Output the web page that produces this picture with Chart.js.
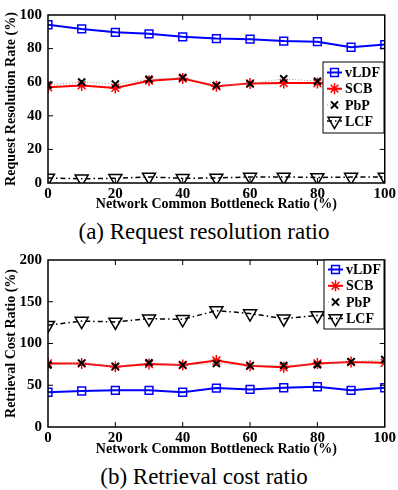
<!DOCTYPE html>
<html lang="en">
<head>
<meta charset="UTF-8" />
<title>Request resolution ratio / Retrieval cost ratio</title>
<style>
  body {
    margin: 0;
    background: #fff;
    width: 398px;
    height: 490px;
    position: relative;
    overflow: hidden;
    font-family: 'Liberation Serif', 'Times New Roman', serif;
  }
  .wrap {
    position: absolute;
    left: 0;
    width: 398px;
    height: 215px;
  }
  .caption {
    position: absolute;
    left: 0;
    width: 408px;
    text-align: center;
    font-size: 23px;
    color: #000;
    line-height: 24px;
  }
</style>
</head>
<body>
<div class="wrap" style="top:0"><canvas id="chartA"></canvas></div>
<div class="caption" style="top:220px">(a) Request resolution ratio</div>
<div class="wrap" style="top:245px"><canvas id="chartB"></canvas></div>
<div class="caption" style="top:465px">(b) Retrieval cost ratio</div>
<script src="https://cdn.jsdelivr.net/npm/chart.js@4.4.0/dist/chart.umd.min.js"></script>
<script>
  // data
  const ratios = [0, 10, 20, 30, 40, 50, 60, 70, 80, 90, 100];

  // (a) request resolution rate (%)
  const resVLDF = [94.2, 91.7, 89.7, 88.8, 87.0, 86.0, 85.6, 84.5, 84.1, 80.8, 82.4];
  const resSCB  = [57.0, 58.1, 56.6, 60.9, 62.2, 57.6, 59.3, 59.5, 59.5, 58.5, 57.0];
  const resPbP  = [58.3, 60.1, 58.9, 61.8, 62.8, 58.1, 59.1, 62.0, 60.6, 59.0, 57.9];
  const resLCF  = [3.0, 2.5, 2.8, 3.6, 2.8, 3.0, 3.6, 3.6, 3.3, 3.5, 3.6];

  // (b) retrieval cost ratio (%)
  const costVLDF = [41.6, 43.1, 43.9, 43.9, 41.6, 46.6, 45.0, 47.0, 48.2, 43.9, 47.0];
  const costSCB  = [76.1, 76.1, 72.2, 75.3, 74.2, 79.6, 73.4, 71.5, 76.1, 77.7, 76.9];
  const costPbP  = [74.2, 76.5, 72.6, 76.9, 74.2, 76.1, 73.4, 73.8, 74.6, 78.1, 80.8];
  const costLCF  = [121.9, 126.9, 125.8, 129.7, 128.9, 139.4, 135.9, 129.7, 133.6, 134.0, 136.7];

  const xTicks = [0, 20, 40, 60, 80, 100];
  const seriesNames = ['vLDF', 'SCB', 'PbP', 'LCF'];

  const serif = "'Liberation Serif', 'Times New Roman', serif";

  function pts(vals) {
    return ratios.map((x, i) => ({ x: x, y: vals[i] }));
  }

  function makeDatasets(v, s, p, l) {
    return [
      {
        label: seriesNames[0], data: pts(v), order: 0,
        borderColor: '#0000ff', borderWidth: 2,
        pointStyle: 'rect', pointRadius: 5.5, pointBorderWidth: 1.5,
        pointBorderColor: '#0000ff', pointBackgroundColor: 'rgba(0,0,0,0)'
      },
      {
        label: seriesNames[1], data: pts(s), order: 2,
        borderColor: '#ff0000', borderWidth: 2,
        pointStyle: 'star', pointRadius: 5.5, pointBorderWidth: 1.5,
        pointBorderColor: '#ff0000', pointBackgroundColor: '#ff0000'
      },
      {
        label: seriesNames[2], data: pts(p), order: 1,
        borderColor: '#9a9a9a', borderWidth: 1, borderDash: [1, 2],
        pointStyle: 'crossRot', pointRadius: 5, pointBorderWidth: 2,
        pointBorderColor: '#000', pointBackgroundColor: '#000'
      },
      {
        label: seriesNames[3], data: pts(l), order: 3,
        borderColor: '#000', borderWidth: 1.5, borderDash: [5, 3, 1.5, 3],
        pointStyle: 'triangle', pointRotation: 180, pointRadius: 7.5, pointBorderWidth: 1.5,
        pointBorderColor: '#000', pointBackgroundColor: 'rgba(0,0,0,0)'
      }
    ];
  }

  // box + inward ticks like the original figure
  const framePlugin = {
    id: 'frame',
    afterDatasetsDraw(chart) {
      const { ctx, chartArea: a, scales } = chart;
      ctx.save();
      ctx.strokeStyle = '#000';
      ctx.lineWidth = 1.5;
      ctx.strokeRect(a.left, a.top, a.right - a.left, a.bottom - a.top);
      ctx.lineWidth = 1;
      const len = 5;
      scales.x.ticks.forEach(t => {
        const px = scales.x.getPixelForValue(t.value);
        if (px <= a.left + 1 || px >= a.right - 1) return;
        ctx.beginPath();
        ctx.moveTo(px, a.bottom); ctx.lineTo(px, a.bottom - len);
        ctx.moveTo(px, a.top); ctx.lineTo(px, a.top + len);
        ctx.stroke();
      });
      scales.y.ticks.forEach(t => {
        const py = scales.y.getPixelForValue(t.value);
        if (py <= a.top + 1 || py >= a.bottom - 1) return;
        ctx.beginPath();
        ctx.moveTo(a.left, py); ctx.lineTo(a.left + len, py);
        ctx.moveTo(a.right, py); ctx.lineTo(a.right - len, py);
        ctx.stroke();
      });
      ctx.restore();
    }
  };

  // legend box inside the plot
  const boxLegend = {
    id: 'boxLegend',
    afterDraw(chart, args, opts) {
      const { ctx } = chart;
      const b = opts.box;
      ctx.save();
      ctx.fillStyle = '#fff';
      ctx.fillRect(b.x, b.y, b.w, b.h);
      ctx.strokeStyle = '#000';
      ctx.lineWidth = 1;
      ctx.strokeRect(b.x, b.y, b.w, b.h);
      chart.data.datasets.forEach((ds, i) => {
        const y = b.y + opts.first + i * opts.step;
        ctx.save();
        ctx.strokeStyle = ds.borderColor;
        ctx.lineWidth = ds.borderWidth;
        ctx.setLineDash(ds.borderDash || []);
        ctx.beginPath();
        ctx.moveTo(b.x + 4, y);
        ctx.lineTo(b.x + 19, y);
        ctx.stroke();
        ctx.setLineDash([]);
        ctx.strokeStyle = ds.pointBorderColor;
        ctx.fillStyle = ds.pointBackgroundColor;
        ctx.lineWidth = ds.pointBorderWidth;
        Chart.helpers.drawPoint(ctx, {
          pointStyle: ds.pointStyle,
          radius: ds.pointRadius,
          rotation: ds.pointRotation || 0,
          borderWidth: ds.pointBorderWidth
        }, b.x + 11.5, y);
        ctx.restore();
        ctx.fillStyle = '#000';
        ctx.font = 'bold 14px ' + serif;
        ctx.textBaseline = 'middle';
        ctx.textAlign = 'left';
        ctx.fillText(ds.label, b.x + 22, y + 1);
      });
      ctx.restore();
    }
  };

  function makeChart(id, datasets, yMax, yStep, yTitle, padTop, xHeight, legendOpts) {
    return new Chart(document.getElementById(id), {
      type: 'line',
      data: { datasets: datasets },
      plugins: [framePlugin, boxLegend],
      options: {
        responsive: true,
        maintainAspectRatio: false,
        animation: false,
        layout: { padding: { top: padTop, right: 11, left: 0, bottom: 0 } },
        plugins: {
          legend: { display: false },
          tooltip: { enabled: false },
          boxLegend: legendOpts
        },
        scales: {
          x: {
            type: 'linear',
            min: 0, max: 100,
            afterBuildTicks: s => { s.ticks = xTicks.map(v => ({ value: v })); },
            afterFit: s => { s.height = xHeight; },
            grid: { display: false, drawTicks: false },
            border: { display: false },
            ticks: {
              padding: 2, color: '#000', maxRotation: 0, autoSkip: false,
              font: { family: serif, size: 15, weight: 'bold' }
            },
            title: {
              display: true, text: 'Network Common Bottleneck Ratio (%)', color: '#000',
              font: { family: serif, size: 14, weight: 'bold' },
              padding: { top: 0, bottom: 2 }
            }
          },
          y: {
            min: 0, max: yMax,
            afterFit: s => { s.width = 48; },
            grid: { display: false, drawTicks: false },
            border: { display: false },
            ticks: {
              stepSize: yStep, padding: 6, color: '#000',
              font: { family: serif, size: 15, weight: 'bold' }
            },
            title: {
              display: true, text: yTitle, color: '#000',
              font: { family: serif, size: 14, weight: 'bold' },
              padding: { top: 3, bottom: 0 }
            }
          }
        }
      }
    });
  }

  makeChart('chartA', makeDatasets(resVLDF, resSCB, resPbP, resLCF),
    100, 20, 'Request Resolution Rate (%)', 11, 32,
    { box: { x: 323, y: 62, w: 61, h: 71 }, first: 10.5, step: 16.2 });

  makeChart('chartB', makeDatasets(costVLDF, costSCB, costPbP, costLCF),
    200, 50, 'Retrieval Cost Ratio (%)', 12, 33,
    { box: { x: 324, y: 15, w: 60, h: 69 }, first: 9.5, step: 16.3 });
</script>
</body>
</html>
